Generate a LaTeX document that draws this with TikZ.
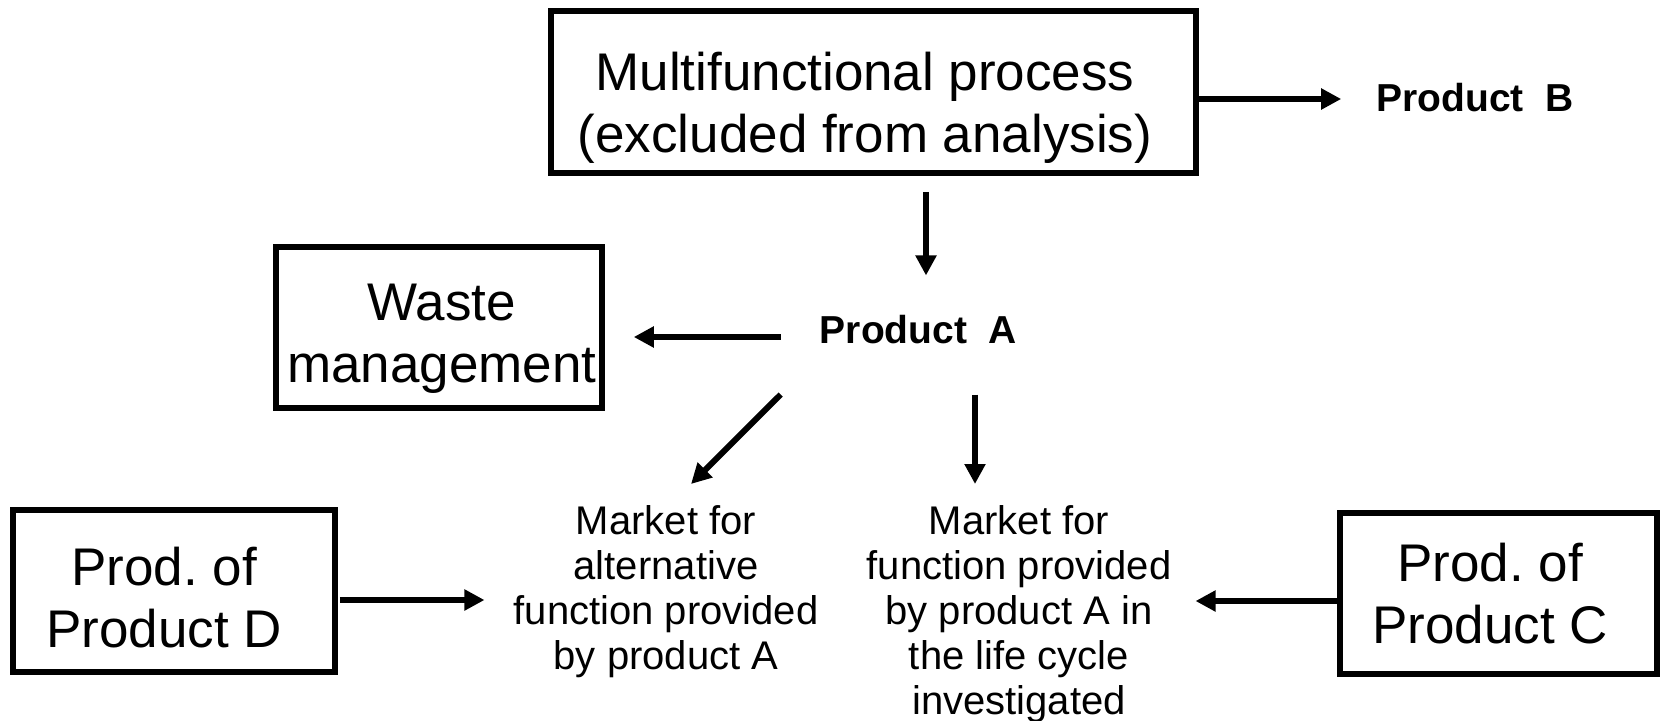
\documentclass[tikz,border=0pt]{standalone}
\usepackage{fontspec}
\setmainfont{Liberation Sans}
\usetikzlibrary{arrows.meta,calc}
\begin{document}
\frenchspacing
\begin{tikzpicture}[x=1pt,y=-1pt,
  box/.style={draw=black,line width=5.5pt,rectangle,inner sep=0pt},
  big/.style={align=center,inner sep=0pt,font=\fontsize{53}{62}\selectfont},
  small/.style={align=center,inner sep=0pt,font=\fontsize{40}{45}\selectfont},
  prod/.style={inner sep=0pt,font=\fontsize{39}{45}\selectfont\bfseries},
  arr/.style={line width=6pt,-{Triangle[length=20pt,width=20pt]}}]
\useasboundingbox (0,0) rectangle (1662,720);
% boxes
\node[box,minimum width=645pt,minimum height=162pt] (multi) at (873.5,92) {};
\node[big] (multiT) at (865,108) {Multifunctional process\\(excluded from analysis)};
\node[box,minimum width=326pt,minimum height=161pt] (waste) at (439,327.5) {};
\node[big] (wasteT) at (442,339) {Waste\\management};
\node[box,minimum width=322pt,minimum height=162pt] (prodD) at (174,591) {};
\node[big] (prodDT) at (164,598) {Prod. of\\Product D};
\node[box,minimum width=317pt,minimum height=161pt] (prodC) at (1498.5,593.5) {};
\node[big] (prodCT) at (1490,594) {Prod. of\\Product C};
% plain texts
\node[prod] (prodB) at (1475,97.5) {Product\ \ B};
\node[prod] (prodA) at (918.5,330) {Product\ \ A};
\node[small,anchor=north] (mktL) at (666,505) {Market for\\alternative\\function provided\\by product A};
\node[small,anchor=north] (mktR) at (1019,505) {Market for\\function provided\\by product A in\\the life cycle\\investigated};
% connectors
\draw[arr] ($(multi.east)+(0,7)$) -- ($(prodB.west)+(-35,1.5)$);
\draw[arr] ($(multi.south)+(52.5,16)$) -- ($(prodA.north)+(7.5,-40)$);
\draw[arr] ($(prodA.west)+(-39,7)$) -- ($(waste.east)+(29,9.5)$);
\draw[arr] ($(prodA.south west)+(-39,50)$) -- ($(mktL.north)+(25,-21)$);
\draw[arr] ($(prodA.south)+(56.5,50)$) -- ($(mktR.north)+(-44,-21)$);
\draw[arr] ($(prodD.east)+(2,9)$) -- ($(mktL.west |- prodD.east)+(-29,9)$);
\draw[arr] ($(prodC.west)+(0,7.5)$) -- ($(mktR.east |- prodC.west)+(24,7.5)$);
\end{tikzpicture}
\end{document}
